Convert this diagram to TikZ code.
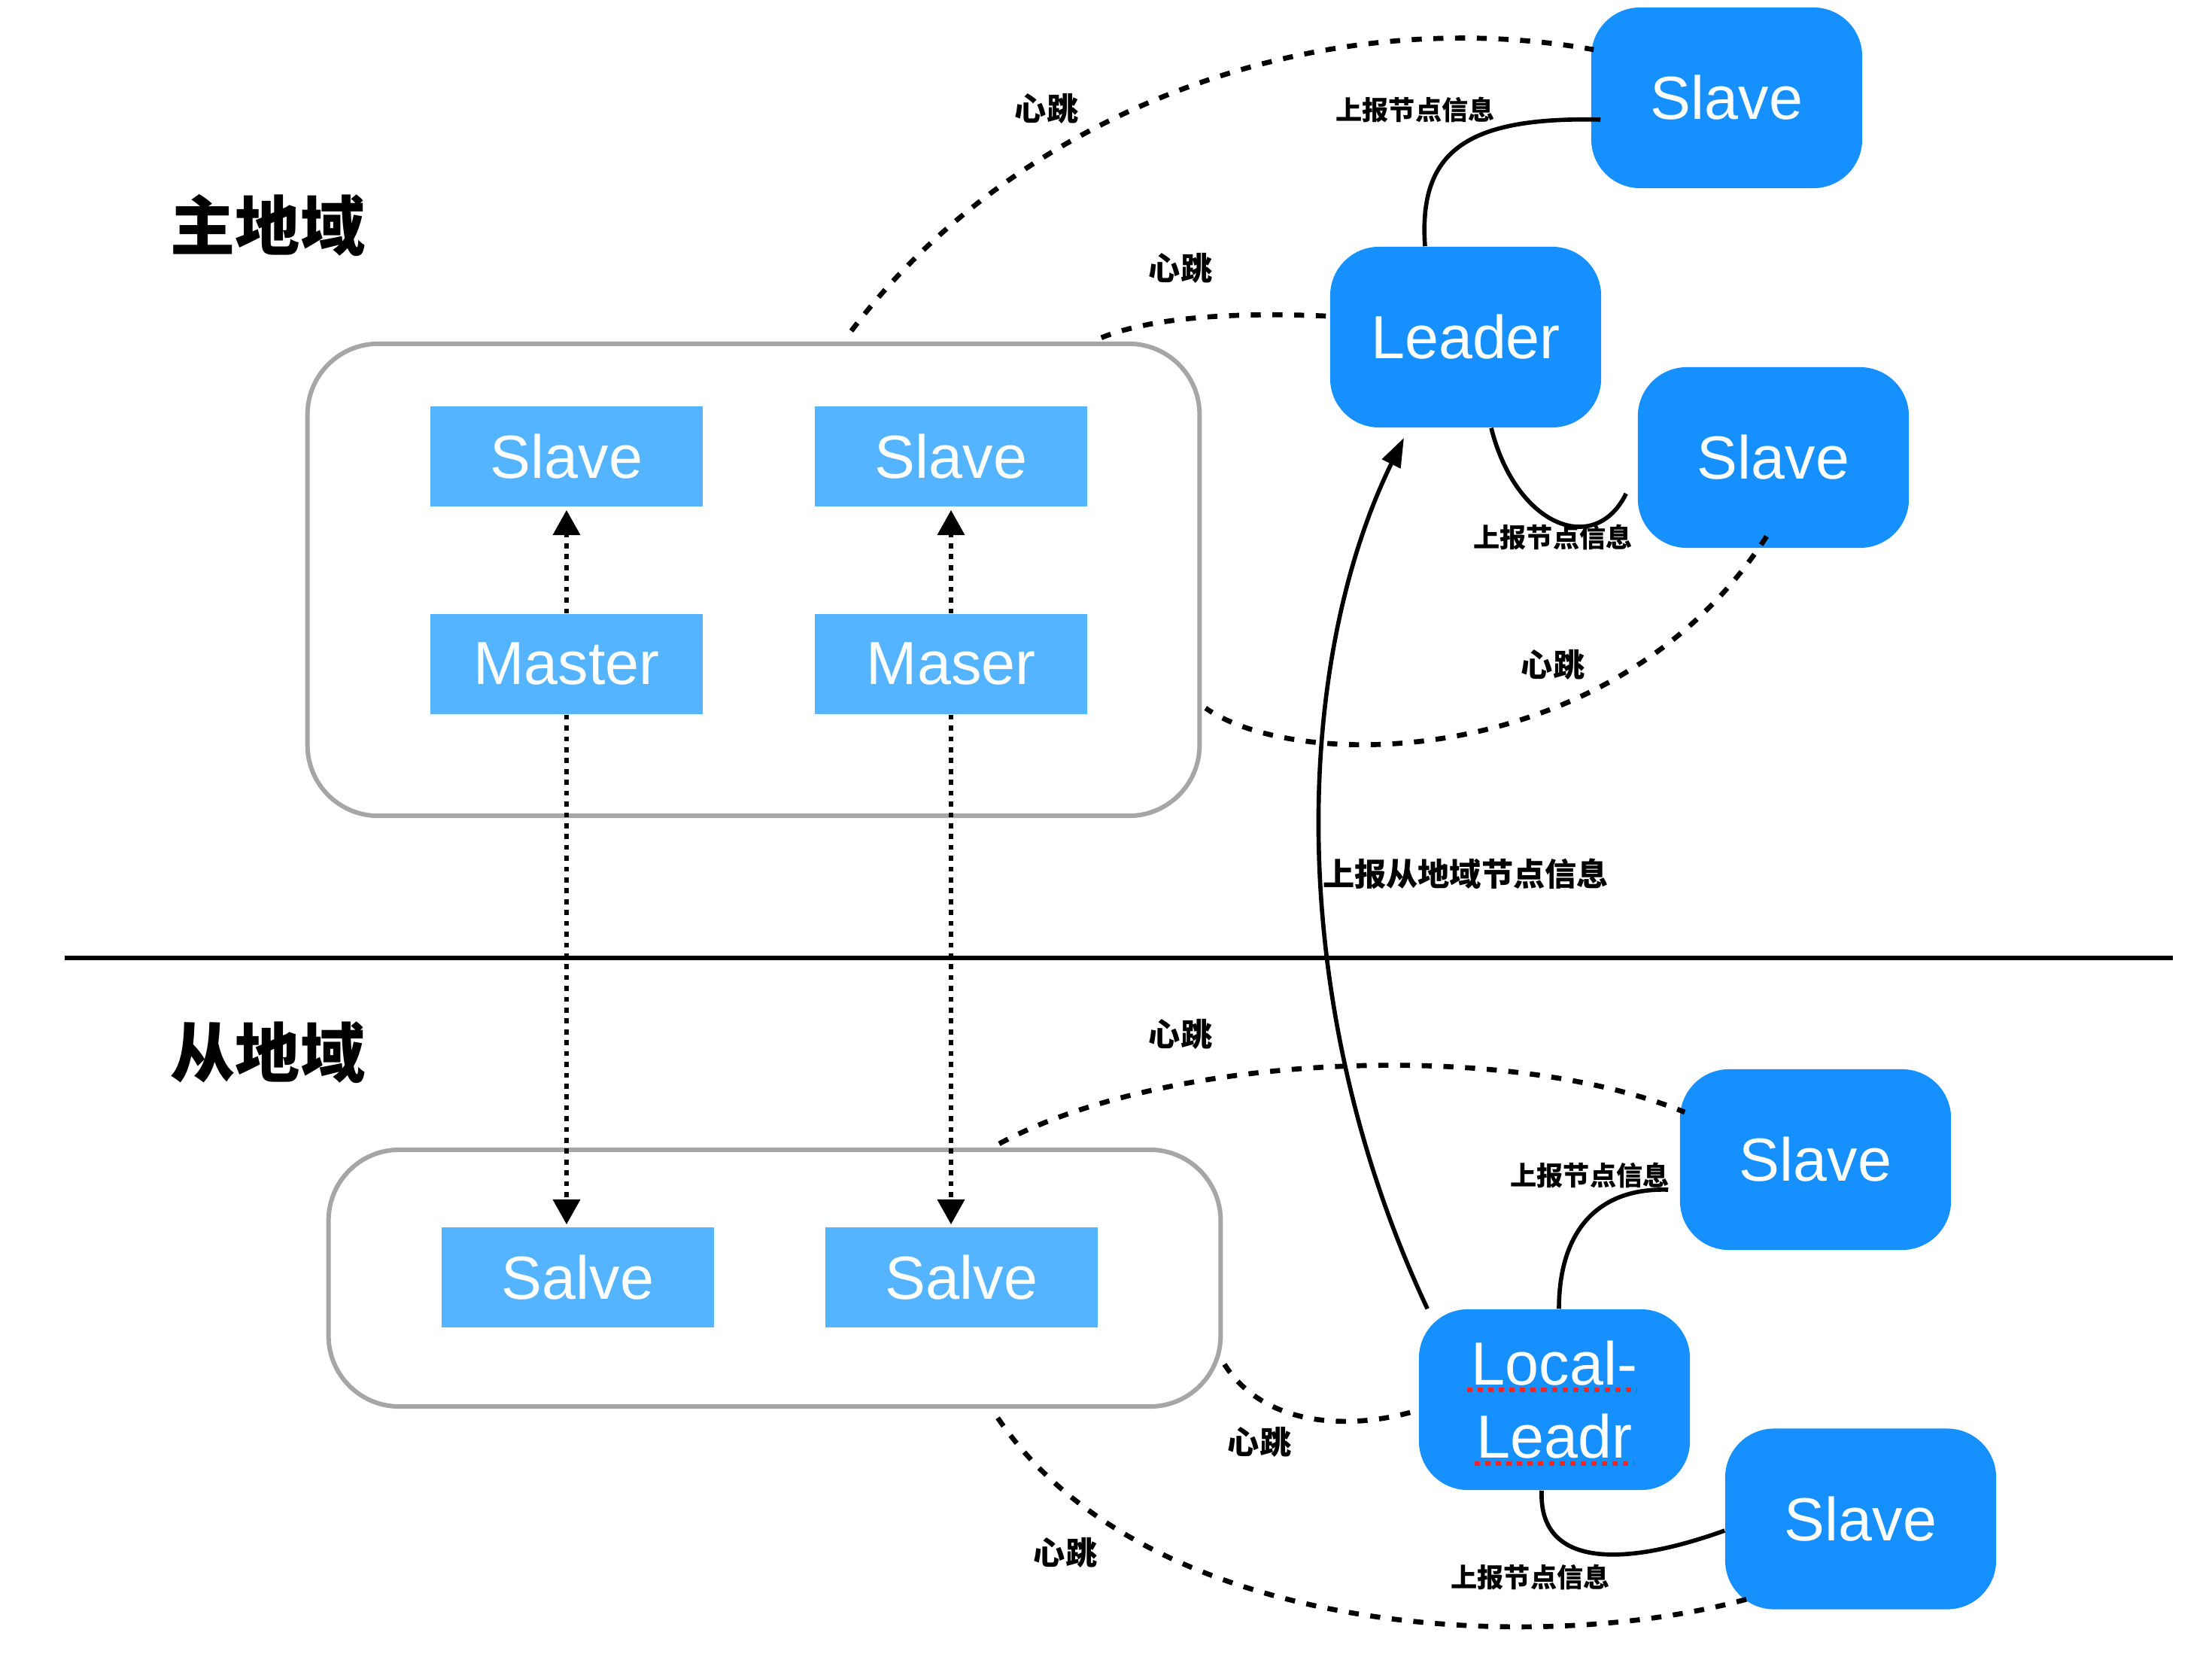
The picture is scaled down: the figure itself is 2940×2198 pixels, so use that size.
\documentclass[tikz,border=0pt]{standalone}
\usepackage{fontspec}
\setmainfont{Liberation Sans}
\newfontfamily\cjk{Noto Sans CJK SC}
\usepackage{tikz}
\usetikzlibrary{arrows.meta,positioning,calc}
\definecolor{darkblue}{RGB}{22,143,255}
\definecolor{lightblue}{RGB}{85,180,255}
\definecolor{boxgray}{RGB}{166,166,166}
\definecolor{spellred}{RGB}{235,40,40}

\begin{document}
\begin{tikzpicture}[x=0.01cm,y=-0.01cm,
    bignode/.style={fill=darkblue,text=white,rounded corners=0.65cm,minimum width=3.6cm,minimum height=2.4cm,inner sep=0pt,align=center,font=\fontsize{23}{27.5}\selectfont},
    smallnode/.style={fill=lightblue,text=white,minimum width=3.62cm,minimum height=1.33cm,inner sep=0pt,font=\fontsize{23}{27}\selectfont},
    region/.style={draw=boxgray,line width=1.7pt,rounded corners=0.94cm,inner sep=0pt,minimum width=11.85cm},
    beat/.style={line width=1.9pt,dash pattern=on 3.8pt off 4.4pt},
    report/.style={line width=1.6pt},
    sync/.style={line width=1.9pt,dash pattern=on 1.9pt off 2.2pt,-{Triangle[length=9.5pt,width=10pt]}},
    hb/.style={font=\cjk\bfseries\fontsize{12}{14}\selectfont},
    rp/.style={font=\cjk\bfseries\fontsize{10}{12}\selectfont},
    title/.style={font=\cjk\bfseries\fontsize{24.5}{28}\selectfont}]

    \useasboundingbox (0,0) rectangle (2940,2198);

    % regions
    \node [title] (main) at (356,300) {主地域};
    \node [title] (sub) at (356,1399) {从地域};
    \coordinate (divl) at (86,1273);
    \coordinate (divr) at (2888,1273);
    \draw [line width=1.5pt] (divl) -- (divr);

    \node [region,minimum height=6.27cm] (upbox) at (1001.5,770.5) {};
    \node [region,minimum height=3.41cm] (lowbox) at (1029.5,1698.5) {};

    \node [smallnode] (sl1) at (753,606.5) {Slave};
    \node [smallnode] (sl2) at (1264,606.5) {Slave};
    \node [smallnode] (ms1) at (753,882.5) {Master};
    \node [smallnode] (ms2) at (1264,882.5) {Maser};
    \node [smallnode] (sv1) at (768,1697.5) {Salve};
    \node [smallnode] (sv2) at (1278,1697.5) {Salve};

    \node [bignode] (slaveA) at (2295,130) {Slave};
    \node [bignode] (leader) at (1948,448) {Leader};
    \node [bignode] (slaveB) at (2357,608) {Slave};
    \node [bignode] (slaveC) at (2413,1541) {Slave};
    \node [bignode] (local) at (2066,1860) {Local-\\Leadr};
    \node [bignode] (slaveD) at (2473,2018.5) {Slave};
    \draw [spellred,line width=1.9pt,dash pattern=on 2pt off 2pt] ($(local.center)+(-116,-13)$) -- ($(local.center)+(110,-13)$);
    \draw [spellred,line width=1.9pt,dash pattern=on 2pt off 2pt] ($(local.center)+(-106,85)$) -- ($(local.center)+(106,85)$);

    % master -> slave
    \draw [sync] (ms1.north) -- ($(sl1.south)+(0,4)$);
    \draw [sync] (ms2.north) -- ($(sl2.south)+(0,4)$);
    \draw [sync] (ms1.south) -- ($(ms1.south |- sv1.north)+(0,-3)$);
    \draw [sync] (ms2.south) -- ($(ms2.south |- sv2.north)+(0,-3)$);

    % heartbeats
    \draw [beat] ($(upbox.north)+(130,-14)$) .. controls (1350,150) and (1750,0) .. ($(slaveA.west)+(4,-64)$);
    \draw [beat] ($(leader.west)+(-5,-28)$) .. controls (1650,415) and (1530,420) .. ($(upbox.north)+(457.5,-3)$);
    \draw [beat] ($(slaveB.south)+(-9,-16)$) .. controls (2150,1020) and (1730,1030) .. ($(upbox.east)+(5,170.5)$);
    \draw [beat] ($(lowbox.north)+(298.5,-5)$) .. controls (1550,1400) and (2000,1380) .. ($(slaveC.west)+(7,-63)$);
    \draw [beat] ($(local.west)+(-11,17)$) .. controls (1790,1900) and (1680,1895) .. ($(lowbox.east)+(2,114.5)$);
    \draw [beat] ($(slaveD.south)+(-152,-14)$) .. controls (2050,2200) and (1520,2180) .. ($(lowbox.south)+(292.5,6)$);

    % reports
    \draw [report] ($(slaveA.west)+(13,29)$) .. controls (1950,155) and (1885,200) .. ($(leader.north)+(-54,0)$);
    \draw [report] ($(leader.south)+(34,0)$) .. controls (2015,700) and (2120,740) .. ($(slaveB.west)+(-15,48)$);
    \draw [report] ($(slaveC.west)+(-15,40)$) .. controls (2120,1578) and (2072,1640) .. ($(local.north)+(6,0)$);
    \draw [report] ($(local.south)+(-17,0)$) .. controls (2045,2080) and (2150,2085) .. ($(slaveD.west)+(0,15.5)$);
    \draw [report,-{Triangle[length=11pt,width=7.5pt]}] ($(local.north west)+(12,0)$) .. controls (1705,1330) and (1720,880) .. ($(leader.south)+(-82,13)$);

    % labels
    \node [hb] (hb1) at (1391,144) {心跳};
    \node [rp] (rp1) at (1881,146) {上报节点信息};
    \node [hb] (hb2) at (1569,356) {心跳};
    \node [rp] (rp2) at (2064,714) {上报节点信息};
    \node [hb] (hb3) at (2064,883) {心跳};
    \node [hb] (rp0) at (1948,1161) {上报从地域节点信息};
    \node [hb] (hb4) at (1569,1374) {心跳};
    \node [rp] (rp3) at (2113,1562) {上报节点信息};
    \node [hb] (hb5) at (1674,1916) {心跳};
    \node [hb] (hb6) at (1416,2063) {心跳};
    \node [rp] (rp4) at (2034,2096) {上报节点信息};
\end{tikzpicture}
\end{document}
